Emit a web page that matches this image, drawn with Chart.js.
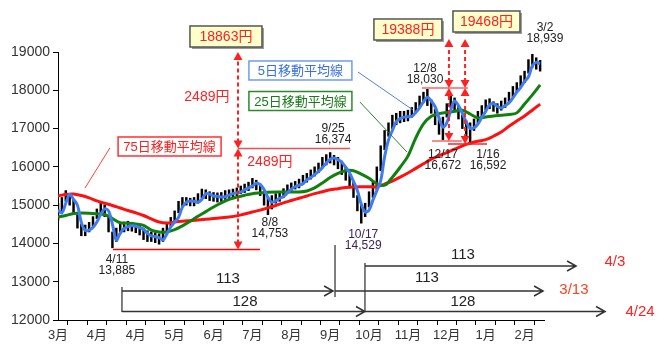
<!DOCTYPE html>
<html>
<head>
<meta charset="utf-8">
<script src="https://cdn.jsdelivr.net/npm/chart.js@4.4.0/dist/chart.umd.min.js"></script>
<style>
  html, body { margin: 0; padding: 0; background: #fff; }
  #wrap { width: 665px; height: 354px; }
</style>
</head>
<body>
<div id="wrap"><canvas id="c" width="665" height="354"></canvas></div>
<script>
// x axis = trading days from early March (every 20 days gets a month label)
const monthLabels = ["3月", "4月", "4月", "5月", "6月", "7月", "8月", "9月", "10月", "11月", "12月", "1月", "2月"];
const yTicks = [12000, 13000, 14000, 15000, 16000, 17000, 18000, 19000];

// candles sampled every 2 trading days: high / low
const candleStep = 2;
const highs = [
  15050,15200,15380,15300,15150,14750,14500,14480,14550,14700,
  14900,15050,15000,14700,14300,14400,14520,14560,14580,14550,
  14500,14480,14400,14330,14300,14280,14250,14400,14550,14680,
  14850,15100,15200,15200,15180,15200,15300,15420,15400,15350,
  15330,15320,15330,15380,15400,15420,15450,15500,15550,15600,
  15700,15650,15550,15350,15200,15250,15300,15330,15430,15530,
  15580,15620,15680,15780,15830,15920,16000,16100,16250,16320,
  16374,16300,16250,16150,16000,15800,15600,15250,15000,15050,
  15350,15600,16000,16550,16950,17150,17350,17400,17450,17450,
  17480,17550,17680,17850,17950,18030,17750,17500,17250,17300,
  17650,17900,17800,17600,17350,17200,17150,17250,17450,17600,
  17750,17780,17700,17650,17720,17800,17950,18100,18200,18380,
  18500,18800,18939,18850,18780
];
const lows = [
  14600,14850,15100,15000,14800,14400,14200,14200,14300,14450,
  14650,14780,14700,14300,13885,14050,14250,14300,14330,14320,
  14280,14220,14100,14050,14050,14020,13980,14050,14300,14450,
  14550,14800,14950,15000,14980,14980,15050,15180,15170,15120,
  15100,15080,15100,15150,15200,15200,15230,15300,15330,15380,
  15450,15400,15250,15000,14753,14900,15050,15100,15200,15300,
  15380,15420,15450,15550,15600,15680,15760,15850,15980,16050,
  16100,16050,15950,15800,15650,15450,15200,14850,14529,14700,
  14950,15200,15400,15900,16450,16800,17000,17100,17150,17180,
  17200,17300,17420,17550,17680,17600,17400,17100,16850,16672,
  17300,17550,17450,17250,17000,16800,16592,16950,17150,17300,
  17480,17520,17450,17400,17480,17550,17680,17820,17950,18100,
  18200,18450,18600,18550,18500
];

// 5-day moving average, every 2 trading days
const ma5Step = 2;
const ma5 = [
  14870,14800,15050,15280,15150,15000,14550,14340,14350,14420,
  14560,14760,14900,14850,14500,14090,14270,14390,14440,14460,
  14450,14410,14370,14260,14200,14180,14150,14090,14250,14430,
  14560,14680,14950,15080,15110,15100,15080,15150,15300,15290,
  15240,15230,15210,15220,15260,15300,15320,15340,15400,15450,
  15500,15570,15540,15410,15200,15080,15110,15180,15220,15320,
  15420,15480,15520,15560,15660,15720,15800,15880,15980,16100,
  16200,16230,16190,16120,15990,15840,15620,15380,15030,14820,
  14870,15130,15380,15640,16260,16700,16950,17180,17260,17300,
  17310,17320,17420,17540,17700,17820,17720,17570,17280,17040,
  17150,17480,17720,17600,17400,17170,17010,17020,17120,17290,
  17450,17620,17650,17580,17540,17600,17670,17800,17950,18070,
  18230,18350,18640,18730,18690
];

// 25-day and 75-day moving averages, every 4 trading days
const maStep = 4;
const ma25 = [
  14690,14730,14780,14795,14790,14775,14755,14650,14540,14530,
  14510,14470,14350,14300,14300,14360,14460,14580,14710,14830,
  14950,15060,15150,15210,15260,15300,15320,15335,15343,15343,
  15343,15343,15370,15450,15580,15720,15830,15900,15900,15810,
  15700,15560,15520,15730,15990,16280,16750,17120,17320,17390,
  17420,17450,17480,17380,17280,17300,17330,17350,17370,17410,
  17640,17880,18140
];
const ma75 = [
  15240,15280,15290,15250,15190,15110,15050,14990,14925,14860,
  14800,14730,14640,14560,14535,14560,14580,14595,14610,14630,
  14650,14670,14690,14720,14770,14820,14870,14930,14990,15060,
  15120,15180,15240,15300,15350,15400,15430,15460,15475,15480,
  15480,15480,15550,15630,15730,15840,15960,16080,16200,16290,
  16370,16460,16550,16620,16670,16710,16800,16910,17060,17200,
  17330,17480,17640
];

const FONT = "'Liberation Sans', 'Noto Sans CJK JP', sans-serif";
Chart.defaults.font.family = FONT;

const annotations = {
  id: 'annotations',
  afterDatasetsDraw(chart) {
    const ctx = chart.ctx;
    const xs = chart.scales.x, ys = chart.scales.y;
    const px = d => xs.getPixelForValue(d);
    const py = v => ys.getPixelForValue(v);
    ctx.save();

    function line(d1, v1, d2, v2, color, w, dash) {
      ctx.beginPath();
      ctx.strokeStyle = color;
      ctx.lineWidth = w;
      ctx.setLineDash(dash || []);
      ctx.moveTo(px(d1), py(v1));
      ctx.lineTo(px(d2), py(v2));
      ctx.stroke();
      ctx.setLineDash([]);
    }
    function tri(x, y, up, color) {
      ctx.beginPath();
      ctx.fillStyle = color;
      const s = up ? 1 : -1;
      ctx.moveTo(x, y);
      ctx.lineTo(x - 4.5, y + s * 8);
      ctx.lineTo(x + 4.5, y + s * 8);
      ctx.closePath();
      ctx.fill();
    }
    // dashed red arrow with heads at both ends
    function dblArrow(d, vLow, vHigh) {
      const x = px(d), y1 = py(vLow), y2 = py(vHigh);
      ctx.beginPath();
      ctx.strokeStyle = '#ff2020';
      ctx.lineWidth = 2;
      ctx.setLineDash([4, 3]);
      ctx.moveTo(x, y1 - 6);
      ctx.lineTo(x, y2 + 6);
      ctx.stroke();
      ctx.setLineDash([]);
      tri(x, y1, false, '#ff2020');
      tri(x, y2, true, '#ff2020');
    }
    function hArrow(d1, d2, v) {
      const x1 = px(d1), x2 = px(d2), y = py(v);
      ctx.beginPath();
      ctx.strokeStyle = '#333';
      ctx.lineWidth = 1.5;
      ctx.moveTo(x1, y);
      ctx.lineTo(x2, y);
      ctx.moveTo(x2 - 9, y - 5);
      ctx.lineTo(x2, y);
      ctx.lineTo(x2 - 9, y + 5);
      ctx.stroke();
    }
    function text(d, v, s, color, size) {
      ctx.fillStyle = color;
      ctx.font = size + 'px ' + FONT;
      ctx.textAlign = 'center';
      ctx.textBaseline = 'middle';
      ctx.fillText(s, px(d), py(v));
    }
    function twoLines(d, v, a, b, color) {
      const x = px(d), y = py(v);
      ctx.fillStyle = color;
      ctx.font = '12px ' + FONT;
      ctx.textAlign = 'center';
      ctx.textBaseline = 'middle';
      ctx.fillText(a, x, y);
      ctx.fillText(b, x, y + 11);
    }
    function box(d, v, w, h, s, fill, stroke, color, size, shadow) {
      const x = px(d) - w / 2, y = py(v) - h / 2;
      if (shadow) {
        ctx.fillStyle = '#999';
        ctx.fillRect(x + 2, y + 2, w, h);
      }
      ctx.fillStyle = fill;
      ctx.fillRect(x, y, w, h);
      ctx.strokeStyle = stroke;
      ctx.lineWidth = 1.5;
      ctx.strokeRect(x, y, w, h);
      ctx.fillStyle = color;
      ctx.font = size + 'px ' + FONT;
      ctx.textAlign = 'center';
      ctx.textBaseline = 'middle';
      ctx.fillText(s, x + w / 2, y + h / 2 + 1);
    }

    // reference levels
    line(28.3, 13840, 103.9, 13840, '#ff0000', 1.5);
    line(92.6, 16480, 150.2, 16480, '#f05050', 1.5);
    line(187.2, 18060, 210.9, 18060, '#ff8888', 2);
    line(192.4, 16675, 207.7, 16675, '#ff8888', 2);
    line(200.6, 16597, 220.7, 16597, '#ff2020', 1.5);

    dblArrow(92.6, 13840, 16480);
    dblArrow(92.6, 16480, 19000);
    dblArrow(201.1, 16675, 18060);
    dblArrow(201.1, 18060, 19340);
    dblArrow(209.4, 16597, 18060);
    dblArrow(209.4, 18060, 19340);

    text(76.6, 17825, '2489円', '#ff2020', 14);
    text(109, 16127, '2489円', '#ff2020', 14);

    // leader lines for the MA labels
    line(26.7, 16493, 13.9, 15448, '#ff4040', 1);
    line(154.3, 18478, 182.6, 17485, '#5080e0', 1);
    line(155.3, 17694, 179.5, 16388, '#308030', 1);

    box(86.4, 19405, 72, 21, '18863円', '#ffffcc', '#555', '#ff2020', 14, true);
    box(180, 19588, 68, 21, '19388円', '#ffffcc', '#555', '#ff2020', 14, true);
    box(220.4, 19797, 67, 21, '19468円', '#ffffcc', '#555', '#ff2020', 14, true);
    box(124.7, 18517, 103, 19, '5日移動平均線', '#fff', '#6f9cf0', '#3a6fe0', 13);
    box(124.7, 17720, 103, 19, '25日移動平均線', '#fff', '#2a8a2a', '#1a7a1a', 13);
    box(57.4, 16532, 103, 19, '75日移動平均線', '#fff', '#ff3030', '#ff2020', 13);

    twoLines(30.3, 13567, '4/11', '13,885', '#222');
    twoLines(109, 14534, '8/8', '14,753', '#222');
    twoLines(141.5, 16989, '9/25', '16,374', '#222');
    twoLines(157, 14220, '10/17', '14,529', '#3a2060');
    twoLines(188.8, 18556, '12/8', '18,030', '#222');
    twoLines(198, 16310, '12/17', '16,672', '#222');
    twoLines(221.2, 16310, '1/16', '16,592', '#222');
    twoLines(250.5, 19627, '3/2', '18,939', '#222');

    // day-count arrows under the chart
    line(32.9, 12862, 32.9, 12209, '#555', 1.5);
    line(142.5, 13959, 142.5, 12601, '#555', 1.5);
    line(157.9, 13489, 157.9, 12209, '#555', 1.5);
    hArrow(32.9, 141.5, 12757);
    hArrow(142.5, 249.5, 12757);
    hArrow(157.9, 266.5, 13410);
    hArrow(32.9, 157.9, 12222);
    hArrow(157.9, 281.4, 12222);
    text(87.4, 13071, '113', '#222', 15);
    text(189.8, 13097, '113', '#222', 15);
    text(208.3, 13698, '113', '#222', 15);
    text(96.2, 12478, '128', '#222', 15);
    text(208.3, 12470, '128', '#222', 15);
    text(286.5, 13515, '4/3', '#ff2020', 15);
    text(265.4, 12784, '3/13', '#ff4020', 15);
    text(299.4, 12209, '4/24', '#ff2020', 15);

    ctx.restore();
  }
};

new Chart(document.getElementById('c'), {
  type: 'bar',
  data: {
    datasets: [
      {
        type: 'line',
        label: '5日移動平均線',
        data: ma5.map((v, i) => ({ x: i * ma5Step, y: v })),
        borderColor: '#3f7cf0',
        borderWidth: 3,
        pointRadius: 0,
        tension: 0.35,
        order: 0
      },
      {
        type: 'line',
        label: '25日移動平均線',
        data: ma25.map((v, i) => ({ x: i * maStep, y: v })),
        borderColor: '#108010',
        borderWidth: 3,
        pointRadius: 0,
        tension: 0.35,
        order: 1
      },
      {
        type: 'line',
        label: '75日移動平均線',
        data: ma75.map((v, i) => ({ x: i * maStep, y: v })),
        borderColor: '#ff1010',
        borderWidth: 3,
        pointRadius: 0,
        tension: 0.35,
        order: 2
      },
      {
        type: 'bar',
        label: '日経平均',
        data: highs.map((h, i) => ({ x: i * candleStep, y: [lows[i], h] })),
        backgroundColor: '#000',
        barThickness: 1.8,
        order: 3
      }
    ]
  },
  options: {
    responsive: false,
    animation: false,
    layout: { padding: { left: 0, right: 121, top: 52, bottom: 0 } },
    plugins: { legend: { display: false }, tooltip: { enabled: false } },
    scales: {
      x: {
        type: 'linear',
        min: 0,
        max: 250,
        offset: false,
        ticks: {
          stepSize: 10,
          autoSkip: false,
          maxRotation: 0,
          padding: 3,
          color: '#333',
          font: { size: 13 },
          callback: v => (v % 20 === 0 ? monthLabels[v / 20] : '')
        },
        grid: { drawOnChartArea: false, tickLength: 5, color: '#000' },
        border: { color: '#000', width: 1 },
        afterFit: s => { s.height = 34; }
      },
      y: {
        min: yTicks[0],
        max: yTicks[yTicks.length - 1],
        afterBuildTicks: s => { s.ticks = yTicks.map(v => ({ value: v })); },
        ticks: { color: '#333', font: { size: 14 }, padding: 3, callback: v => String(v) },
        grid: { drawOnChartArea: false, tickLength: 5, color: '#000' },
        border: { color: '#000', width: 1 },
        afterFit: s => { s.width = 58; }
      }
    }
  },
  plugins: [annotations]
});
</script>
</body>
</html>
